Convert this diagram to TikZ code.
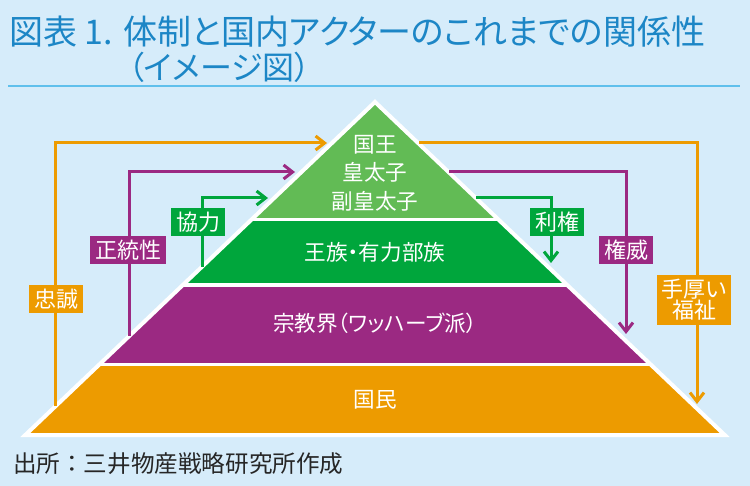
\documentclass[tikz,border=0pt]{standalone}
\usepackage{fontspec}
\setmainfont{Noto Sans CJK JP}[RawFeature=+palt]
\newfontfamily\fuentefija{Noto Sans CJK JP}
\usetikzlibrary{arrows.meta,positioning}

\definecolor{fondo}{RGB}{214,236,250}
\definecolor{azul}{RGB}{28,134,198}
\definecolor{raya}{RGB}{96,192,236}
\definecolor{verdeclaro}{RGB}{98,187,85}
\definecolor{verde}{RGB}{0,166,60}
\definecolor{morado}{RGB}{155,41,130}
\definecolor{naranja}{RGB}{237,155,0}

\begin{document}
\begin{tikzpicture}[x=0.5pt,y=-0.5pt,>={Straight Barb[length=4.5pt,width=7pt]},
  tier/.style={text=white, font=\fontsize{10.8}{14.3}\selectfont, align=center},
  etiqueta/.style={text=white, font=\fontsize{11}{10.5}\selectfont, inner xsep=2.5pt, inner ysep=2pt, align=center},
  enlace/.style={line width=1.5pt, ->}]
  % fondo y titulo
  \fill[fondo] (0,0) rectangle (750,486);
  \useasboundingbox (0,0) rectangle (750,486);
  \draw[raya, line width=0.75pt] (8,86) -- (740,86);
  \node[anchor=west, text=azul, font=\fontsize{17}{17}\selectfont] (titulo) at (2,32) {図表 1. 体制と国内アクターのこれまでの関係性};
  \node[anchor=west, text=azul, font=\fontsize{16}{16}\selectfont] (subtitulo) at (121,67) {（イメージ図）};

  % piramide
  \coordinate (apex) at (375,102);
  \coordinate (l1) at (251.6,219.5);  \coordinate (r1) at (498.4,219.5);
  \coordinate (l2) at (182.8,285);    \coordinate (r2) at (567.2,285);
  \coordinate (l3) at (99.4,364.5);   \coordinate (r3) at (650.6,364.5);
  \coordinate (l4) at (25.3,435);     \coordinate (r4) at (724.7,435);
  \fill[verdeclaro] (apex) -- (l1) -- (r1) -- cycle;
  \fill[verde] (l1) -- (l2) -- (r2) -- (r1) -- cycle;
  \fill[morado] (l2) -- (l3) -- (r3) -- (r2) -- cycle;
  \fill[naranja] (l3) -- (l4) -- (r4) -- (r3) -- cycle;
  \draw[white, line width=1.6pt] (l1) -- (r1) (l2) -- (r2) (l3) -- (r3);
  \draw[white, line width=2pt, line join=miter] (apex) -- (l4) -- (r4) -- cycle;

  \node[tier] (rey) at (375,173) {国王\\皇太子\\副皇太子};
  \node[tier] (tribus) at (375,252) {王族・有力部族};
  \node[tier] (religiosos) at (375,323) {宗教界（ワッハーブ派）};
  \node[tier] (pueblo) at (375,400) {国民};

  % flechas
  \coordinate (lealtad_a) at (55,406);   \coordinate (lealtad_b) at (327,143);
  \coordinate (bienestar_a) at (419,143); \coordinate (bienestar_b) at (697,404);
  \coordinate (legitimidad_a) at (129,336); \coordinate (legitimidad_b) at (295,172);
  \coordinate (autoridad_a) at (449,172);  \coordinate (autoridad_b) at (626,334);
  \coordinate (cooperacion_a) at (202,267); \coordinate (cooperacion_b) at (268,198);
  \coordinate (intereses_a) at (476,198);  \coordinate (intereses_b) at (551,263);

  \draw[enlace, naranja] (lealtad_a) |- (lealtad_b);
  \draw[enlace, naranja] (bienestar_a) -| (bienestar_b);
  \draw[enlace, morado] (legitimidad_a) |- (legitimidad_b);
  \draw[enlace, morado] (autoridad_a) -| (autoridad_b);
  \draw[enlace, verde] (cooperacion_a) |- (cooperacion_b);
  \draw[enlace, verde] (intereses_a) -| (intereses_b);

  \node[etiqueta, fill=naranja] (lealtad) at (56,299) {忠誠};
  \node[etiqueta, fill=naranja] (bienestar) at (694,300) {手厚い\\福祉};
  \node[etiqueta, fill=morado] (legitimidad) at (128,250) {正統性};
  \node[etiqueta, fill=morado] (autoridad) at (626,250) {権威};
  \node[etiqueta, fill=verde] (cooperacion) at (198,222) {協力};
  \node[etiqueta, fill=verde] (intereses) at (557,222) {利権};

  % fuente
  \node[anchor=west, text=black!85, font=\fuentefija\fontsize{11.8}{11.8}\selectfont] (fuente) at (6,464) {出所：三井物産戦略研究所作成};
\end{tikzpicture}
\end{document}
